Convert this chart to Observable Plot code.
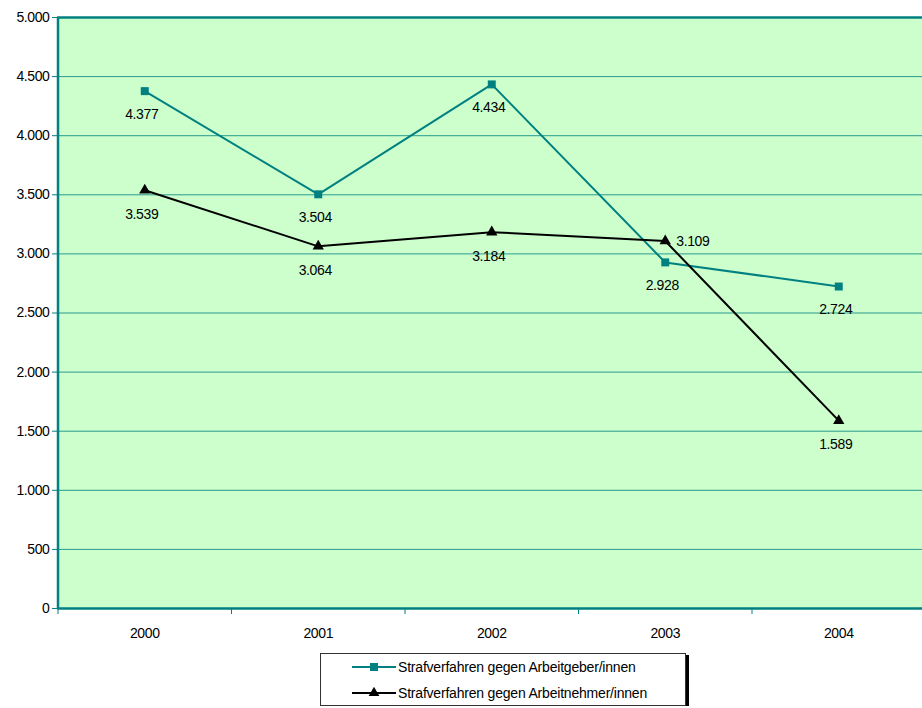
<!DOCTYPE html>
<html>
<head>
<meta charset="utf-8">
<script src="https://cdn.jsdelivr.net/npm/d3@7"></script>
<script src="https://cdn.jsdelivr.net/npm/@observablehq/plot@0.6"></script>
<style>
  body { margin: 0; background: #fff; font-family: "Liberation Sans", Arial, sans-serif; }
  #chart svg { display: block; }
  .legend {
    position: relative; margin-left: 320px; margin-top: 8px; width: 364px; height: 51px;
    border: 1px solid #333; box-shadow: 3px 2px 0 #000; background: #fff;
    font-size: 14px; letter-spacing: -0.2px; color: #000;
  }
  .legend .row { display: flex; align-items: center; height: 26px; padding-left: 31px; }
  .legend svg { margin-right: 2px; }
</style>
</head>
<body>
<div id="chart"></div>
<div class="legend" id="legend"></div>
<script>
// Strafverfahren nach Jahr
const years = ["2000", "2001", "2002", "2003", "2004"];
const employer = [4377, 3504, 4434, 2928, 2724];
const employee = [3539, 3064, 3184, 3109, 1589];
const seriesNames = [
  "Strafverfahren gegen Arbeitgeber/innen",
  "Strafverfahren gegen Arbeitnehmer/innen"
];
const yTicks = [0, 500, 1000, 1500, 2000, 2500, 3000, 3500, 4000, 4500, 5000];

const teal = "#008080";
const de = d3.formatLocale({decimal: ",", thousands: ".", grouping: [3], currency: ["", " €"]});
const fmt = de.format(",d");

const rows = [
  ...years.map((year, i) => ({i, year, value: employer[i], series: seriesNames[0]})),
  ...years.map((year, i) => ({i, year, value: employee[i], series: seriesNames[1]}))
];
const empRows = rows.filter(d => d.series === seriesNames[0]);
const wrkRows = rows.filter(d => d.series === seriesNames[1]);
// category boundaries for the small tick marks under the x axis
const bounds = d3.range(years.length + 1).map(k => k - 0.5);

const chart = Plot.plot({
  width: 922,
  height: 645,
  marginTop: 17,
  marginBottom: 37,
  marginLeft: 57,
  marginRight: 0,
  style: {fontFamily: "Liberation Sans, Arial, sans-serif", fontSize: "14px", letterSpacing: "-0.4px", color: "#000", background: "#fff"},
  x: {domain: [-0.5, 4.5], range: [57.5, 925], axis: null},
  y: {domain: [0, 5000], axis: null},
  marks: [
    Plot.frame({fill: "#ccffcc", stroke: "none"}),
    Plot.gridY(yTicks, {stroke: teal, strokeOpacity: 0.8, strokeWidth: 1}),
    Plot.ruleY([5000], {stroke: teal, strokeWidth: 2.5}),
    Plot.ruleY([0], {stroke: teal, strokeWidth: 2.5}),
    Plot.ruleX([-0.5], {stroke: teal, strokeWidth: 2.5}),
    Plot.axisY(yTicks, {tickSize: 5, tickPadding: 3, tickFormat: fmt, stroke: teal, fill: "#000", label: null}),
    Plot.axisX(bounds, {tickSize: 6, tickFormat: () => "", stroke: teal, label: null}),
    Plot.text(years, {x: (d, i) => i, y: 0, text: d => d, dy: 25, fill: "#000"}),
    Plot.line(empRows, {x: "i", y: "value", stroke: teal, strokeWidth: 2}),
    Plot.line(wrkRows, {x: "i", y: "value", stroke: "#000", strokeWidth: 2}),
    Plot.dot(empRows, {x: "i", y: "value", symbol: "square", r: 4.5, fill: teal, stroke: null}),
    Plot.dot(wrkRows, {x: "i", y: "value", symbol: "triangle", r: 4.2, fill: "#000", stroke: null}),
    Plot.text(empRows, {x: "i", y: "value", text: d => fmt(d.value), dy: 23, dx: -3, fill: "#000"}),
    Plot.text(wrkRows.filter(d => d.year !== "2003"), {x: "i", y: "value", text: d => fmt(d.value), dy: 24, dx: -3, fill: "#000"}),
    Plot.text(wrkRows.filter(d => d.year === "2003"), {x: "i", y: "value", text: d => fmt(d.value), dx: 11, textAnchor: "start", fill: "#000"})
  ]
});
document.getElementById("chart").append(chart);

// legend below the chart
const legend = d3.select("#legend");
seriesNames.forEach((name, k) => {
  const row = legend.append("div").attr("class", "row");
  const s = row.append("svg").attr("width", 44).attr("height", 12);
  const color = k === 0 ? teal : "#000";
  s.append("line").attr("x1", 0).attr("x2", 44).attr("y1", 6).attr("y2", 6).attr("stroke", color).attr("stroke-width", 2);
  if (k === 0) {
    s.append("rect").attr("x", 18).attr("y", 2).attr("width", 8).attr("height", 8).attr("fill", color);
  } else {
    s.append("path").attr("d", d3.symbol(d3.symbolTriangle, 50)()).attr("transform", "translate(22,6)").attr("fill", color);
  }
  row.append("span").text(name);
});
</script>
</body>
</html>
